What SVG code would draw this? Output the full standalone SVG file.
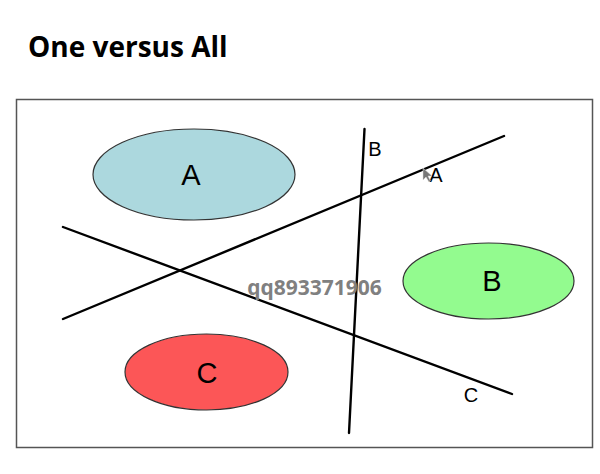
<svg xmlns="http://www.w3.org/2000/svg" width="600" height="474" viewBox="0 0 600 474">
<style>
.lbl{font-family:"Liberation Sans",Arial,sans-serif;fill:#000;text-anchor:middle}
.big{font-size:29px}
.small{font-size:20px}
.sep{stroke:#000;stroke-width:2.4;stroke-linecap:round;fill:none}
.ell{stroke:#333;stroke-width:1.2}
</style>
<rect width="600" height="474" fill="#fff"/>
<text x="28" y="57" font-family="'Open Sans','Liberation Sans',sans-serif" font-weight="bold" font-size="28" fill="#000">One versus All</text>
<rect x="16.5" y="99.5" width="576" height="348" fill="#fff" stroke="#555" stroke-width="1.5"/>
<g id="node-A">
<ellipse class="ell" cx="194" cy="174.5" rx="101" ry="45.5" fill="#acd8de"/>
<text class="lbl big" x="191" y="185">A</text>
</g>
<g id="node-B">
<ellipse class="ell" cx="488.5" cy="281" rx="85.5" ry="38" fill="#93fb8f"/>
<text class="lbl big" x="492" y="291">B</text>
</g>
<g id="node-C">
<ellipse class="ell" cx="206.5" cy="372" rx="81.5" ry="38" fill="#fc5657"/>
<text class="lbl big" x="207" y="383">C</text>
</g>
<g id="connectors">
<line class="sep" x1="63" y1="319" x2="504" y2="136"/>
<line class="sep" x1="63" y1="227" x2="512" y2="394"/>
<line class="sep" x1="364.5" y1="129" x2="349" y2="433"/>
<text class="lbl small" x="375" y="156">B</text>
<text class="lbl small" x="436" y="182">A</text>
<text class="lbl small" x="471" y="402">C</text>
</g>
<polygon points="423,168 423,180 426,177 429,182 430.5,181 428,176 432,176" fill="#777" stroke="#ddd" stroke-width="0.5"/>
<text x="314.5" y="295" text-anchor="middle" font-family="'Open Sans','Liberation Sans',sans-serif" font-weight="bold" font-size="21" fill="#808080">qq893371906</text>
</svg>
